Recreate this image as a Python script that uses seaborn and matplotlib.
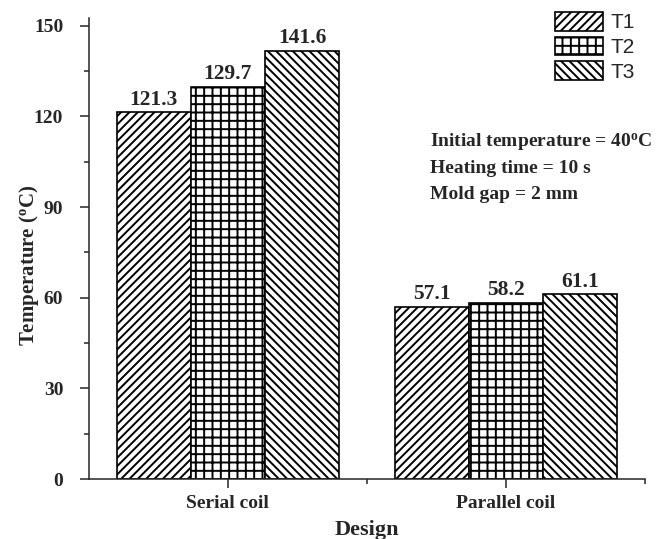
import pandas as pd
import matplotlib
matplotlib.use('Agg')
import matplotlib.pyplot as plt
import seaborn as sns
from matplotlib.patches import Patch
from matplotlib.ticker import MultipleLocator, FixedLocator

# Donnees
designs = ['Serial coil', 'Parallel coil']
probes = ['T1', 'T2', 'T3']
t1 = [121.3, 57.1]
t2 = [129.7, 58.2]
t3 = [141.6, 61.1]
notes = ['Initial temperature = 40$^{o}$C', 'Heating time = 10 s', 'Mold gap = 2 mm']

df = pd.DataFrame({
    'Design': designs * 3,
    'Probe': [p for p in probes for _ in designs],
    'Temperature': t1 + t2 + t3,
})

sns.set_style('ticks')
plt.rcParams['font.family'] = ['Liberation Serif', 'DejaVu Serif']
plt.rcParams['font.weight'] = 'bold'
plt.rcParams['mathtext.fontset'] = 'custom'
plt.rcParams['mathtext.rm'] = 'Liberation Serif:bold'
plt.rcParams['mathtext.it'] = 'Liberation Serif:bold'
plt.rcParams['mathtext.default'] = 'rm'
plt.rcParams['hatch.linewidth'] = 1.4
plt.rcParams['axes.linewidth'] = 1.1

fig = plt.figure(figsize=(6.64, 5.39), dpi=100)
ax = fig.add_axes([0.134, 0.111, 0.837, 0.856])

sns.barplot(data=df, x='Design', y='Temperature', hue='Probe',
            palette=['white'] * 3, edgecolor='black', linewidth=1.2,
            saturation=1, legend=False, ax=ax)

hatches = ['////', '++', '\\\\\\\\']
for cont, h in zip(ax.containers, hatches):
    for bar in cont:
        bar.set_hatch(h)
    ax.bar_label(cont, fmt='%.1f', padding=2, fontsize=15.5, fontweight='bold')

ax.set_xlim(-0.5, 1.5)
ax.set_ylim(0, 152.6)
ax.yaxis.set_major_locator(MultipleLocator(30))
ax.yaxis.set_minor_locator(MultipleLocator(15))
ax.xaxis.set_minor_locator(FixedLocator([0.5, 1.5]))
ax.tick_params(axis='both', which='major', length=6.5, width=1.1, labelsize=14)
ax.tick_params(axis='x', which='major', labelsize=14, pad=5)
ax.tick_params(axis='y', which='major', pad=12)
ax.tick_params(axis='both', which='minor', length=3.5, width=1.1)
sns.despine(ax=ax)

ax.set_xlabel('Design', fontsize=16, fontweight='bold', labelpad=6)
ax.set_ylabel('Temperature ($^{o}$C)', fontsize=15, fontweight='bold')
ax.yaxis.set_label_coords(-0.086, 0.464)

for txt, yy in zip(notes, [111.5, 102.6, 94.0]):
    ax.text(0.726, yy, txt, fontsize=14, fontweight='bold', ha='left', va='center')

handles = [Patch(facecolor='white', edgecolor='black', hatch=h, linewidth=1.2) for h in hatches]
fig.legend(handles, probes, loc='upper left', bbox_to_anchor=(555 / 664, 1 - 12 / 539),
           frameon=False, borderpad=0, borderaxespad=0, handlelength=2.3,
           handleheight=1.0, handletextpad=0.35, labelspacing=0.2,
           prop={'family': 'Liberation Sans', 'weight': 'normal', 'size': 15})

plt.savefig('out.png', dpi=100)
plt.close()
